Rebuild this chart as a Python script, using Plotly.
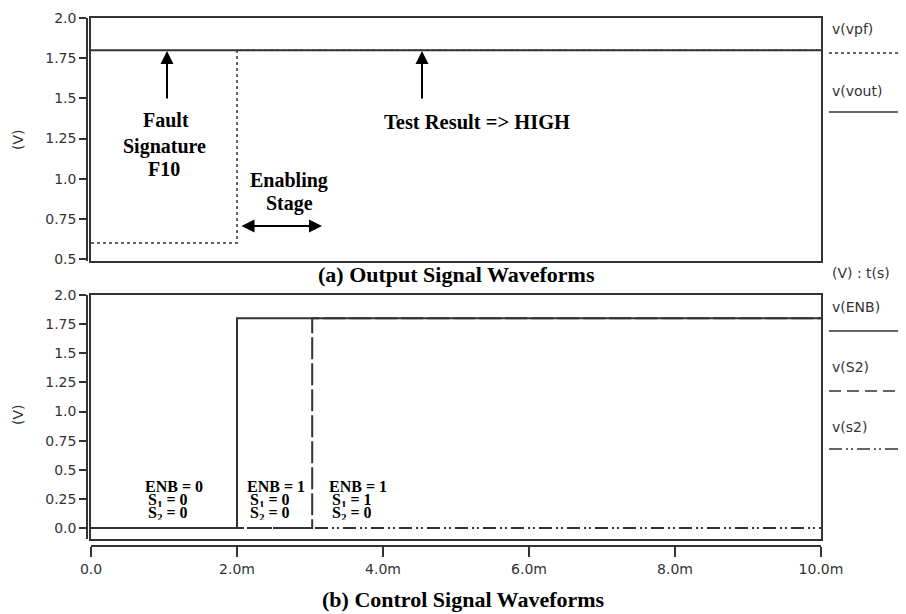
import plotly.graph_objects as go

# ---------------- data ----------------
t_vout = [0.0, 0.010]
v_vout = [1.8, 1.8]
t_vpf = [0.0, 0.002, 0.002, 0.010]
v_vpf = [0.6, 0.6, 1.8, 1.8]

t_enb = [0.0, 0.002, 0.002, 0.010]
v_enb = [0.0, 0.0, 1.8, 1.8]
t_S2 = [0.0, 0.00303, 0.00303, 0.010]
v_S2 = [0.0, 0.0, 1.8, 1.8]
t_s2 = [0.0, 0.010]
v_s2 = [0.0, 0.0]

x_tickvals = [0.0, 0.002, 0.004, 0.006, 0.008, 0.010]
x_ticktext = ["0.0", "2.0m", "4.0m", "6.0m", "8.0m", "10.0m"]
top_tickvals = [0.5, 0.75, 1.0, 1.25, 1.5, 1.75, 2.0]
top_ticktext = ["0.5", "0.75", "1.0", "1.25", "1.5", "1.75", "2.0"]
bot_tickvals = [0.0, 0.25, 0.5, 0.75, 1.0, 1.25, 1.5, 1.75, 2.0]
bot_ticktext = ["0.0", "0.25", "0.5", "0.75", "1.0", "1.25", "1.5", "1.75", "2.0"]

# ---------------- layout helpers ----------------
OFF = 8                      # page body margin
W, H = 906 - OFF, 614 - OFF  # figure size so it fits the window
def px(x):
    return (x - OFF) / W
def py(y):
    return 1 - (y - OFF) / H

LC = "#333333"
SANS = "DejaVu Sans"
SERIF = "Liberation Serif"
dash_s2 = "13px,4px,2px,3px,2px,4px"
dash_S2 = "22px,4px"

fig = go.Figure()

# top panel
fig.add_trace(go.Scatter(x=t_vout, y=v_vout, mode="lines", xaxis="x", yaxis="y",
                         line=dict(color=LC, width=2), name="v(vout)"))
fig.add_trace(go.Scatter(x=t_vpf, y=v_vpf, mode="lines", xaxis="x", yaxis="y3",
                         line=dict(color=LC, width=1.5, dash="dot"), name="v(vpf)"))
# bottom panel
fig.add_trace(go.Scatter(x=t_s2, y=v_s2, mode="lines", xaxis="x3", yaxis="y4",
                         line=dict(color=LC, width=2, dash=dash_s2), name="v(s2)"))
fig.add_trace(go.Scatter(x=t_S2, y=v_S2, mode="lines", xaxis="x2", yaxis="y2",
                         line=dict(color=LC, width=2, dash=dash_S2), name="v(S2)"))
fig.add_trace(go.Scatter(x=t_enb, y=v_enb, mode="lines", xaxis="x2", yaxis="y2",
                         line=dict(color=LC, width=2), name="v(ENB)"))

xdom = [px(91), px(821)]
top_dom = [py(261), py(18)]
bot_dom = [py(539), py(295)]
top_range = [0.488, 2.0]
bot_range = [-0.094, 2.0]
x_range = [0.0, 0.010]

box = dict(showline=True, linecolor=LC, linewidth=2, mirror=True, showgrid=False,
           zeroline=False, ticks="", showticklabels=False, fixedrange=True,
           automargin=False)
tickfont = dict(family=SANS, size=14, color=LC)
free_common = dict(showline=True, linecolor=LC, linewidth=1.5, ticks="outside",
                   tickwidth=1.5, tickcolor=LC, tickfont=tickfont, showgrid=False,
                   zeroline=False, automargin=False, fixedrange=True)

fig.update_layout(
    width=W, height=H,
    margin=dict(l=0, r=0, t=0, b=0, pad=0, autoexpand=False),
    paper_bgcolor="white", plot_bgcolor="white",
    showlegend=False,
    xaxis=dict(domain=xdom, range=x_range, anchor="y", **box),
    yaxis=dict(domain=top_dom, range=top_range, anchor="x", **box),
    yaxis3=dict(overlaying="y", anchor="free", position=px(87), side="left",
                range=top_range, ticklen=7,
                tickvals=top_tickvals, ticktext=top_ticktext, **free_common),
    xaxis2=dict(domain=xdom, range=x_range, anchor="y2", **box),
    yaxis2=dict(domain=bot_dom, range=bot_range, anchor="x2", **box),
    xaxis3=dict(overlaying="x2", anchor="free", position=py(546), side="bottom",
                range=x_range, ticklen=10,
                tickvals=x_tickvals, ticktext=x_ticktext, **free_common),
    yaxis4=dict(overlaying="y2", anchor="free", position=px(87), side="left",
                range=bot_range, ticklen=7,
                tickvals=bot_tickvals, ticktext=bot_ticktext, **free_common),
)

anns = []
def txt(text, x, y, size, family=SERIF, xanchor="center", color="black", angle=0, height=None):
    a = dict(text=text, x=px(x), y=py(y), xref="paper", yref="paper",
             showarrow=False, xanchor=xanchor, yanchor="middle",
             textangle=angle,
             font=dict(family=family, size=size, color=color))
    if height is not None:
        a["height"] = height
    anns.append(a)

def arrow(xh, yh, xt, yt, both=False):
    anns.append(dict(text="", x=px(xh), y=py(yh), xref="paper", yref="paper",
                     ax=xt - xh, ay=yt - yh, axref="pixel", ayref="pixel",
                     showarrow=True, arrowhead=2, arrowsize=1.3, arrowwidth=2,
                     startarrowhead=2, startarrowsize=1.3,
                     arrowside="end+start" if both else "end",
                     arrowcolor="black", standoff=0, startstandoff=0))

# top panel annotations
txt("<b>Fault</b>", 166, 120, 20)
txt("<b>Signature</b>", 164, 146, 20)
txt("<b>F10</b>", 164, 169, 20)
arrow(167, 51, 167, 100)
txt("<b>Test Result => HIGH</b>", 477, 122, 20.5)
arrow(422, 51, 422, 100)
txt("<b>Enabling</b>", 289, 180, 20)
txt("<b>Stage</b>", 289, 203, 20)
arrow(322, 226, 240, 226, both=True)

# captions
txt("<b>(a) Output Signal Waveforms</b>", 456, 275, 22)
txt("<b>(b) Control Signal Waveforms</b>", 463, 599, 22)

# bottom panel state labels
for xl, enb, s1 in [(143, "0", "0"), (245, "1", "0"), (327, "1", "1")]:
    txt("<b>ENB = %s</b>" % enb, xl, 486, 16, xanchor="left", height=13)
    txt("<b>S<sub>1</sub> = %s</b>" % s1, xl + 3, 500, 16, xanchor="left", height=13)
    txt("<b>S<sub>2</sub> = 0</b>", xl + 3, 513, 16, xanchor="left", height=13)

# axis titles
txt("(V)", 18, 140, 14, family=SANS, color=LC, angle=-90)
txt("(V)", 18, 415, 14, family=SANS, color=LC, angle=-90)

# legend texts
txt("v(vpf)", 830, 29, 14, family=SANS, xanchor="left", color=LC)
txt("v(vout)", 830, 91, 14, family=SANS, xanchor="left", color=LC)
txt("(V) : t(s)", 830, 273, 14, family=SANS, xanchor="left", color=LC)
txt("v(ENB)", 830, 307, 14, family=SANS, xanchor="left", color=LC)
txt("v(S2)", 830, 367, 14, family=SANS, xanchor="left", color=LC)
txt("v(s2)", 830, 427, 14, family=SANS, xanchor="left", color=LC)

fig.update_layout(annotations=anns)

# legend line samples
shapes = []
for y, dash in [(53, "dot"), (112, "solid"), (331, "solid"), (391, "12px,6px"), (449, dash_s2)]:
    shapes.append(dict(type="line", xref="paper", yref="paper",
                       x0=px(829), x1=px(906), y0=py(y), y1=py(y),
                       line=dict(color=LC, width=1.5, dash=dash)))
fig.update_layout(shapes=shapes)

fig.write_html("out.html")
